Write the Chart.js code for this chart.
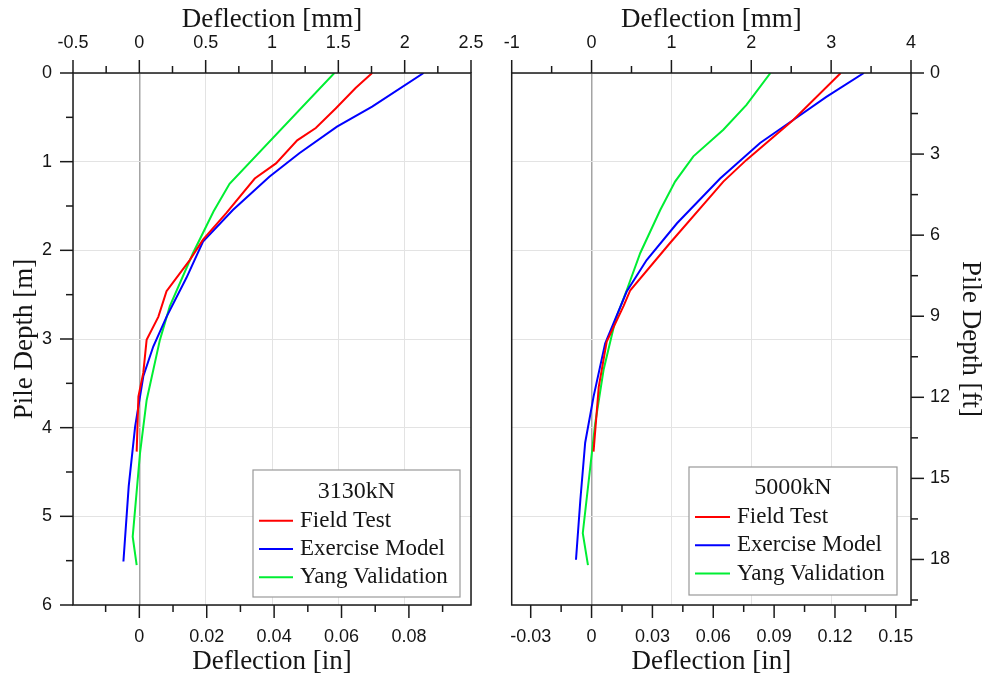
<!DOCTYPE html>
<html>
<head>
<meta charset="utf-8">
<script src="https://cdn.jsdelivr.net/npm/chart.js@4.4.1/dist/chart.umd.min.js"></script>
<style>
  html, body { margin: 0; padding: 0; background: #fff; }
  #wrap { position: relative; width: 988px; height: 680px; }
  canvas { position: absolute; top: 0; }
  #pileA { left: 0; }
  #pileB { left: 494px; }
</style>
</head>
<body>
<div id="wrap">
  <canvas id="pileA" width="494" height="680"></canvas>
  <canvas id="pileB" width="494" height="680"></canvas>
</div>
<script>
const MM_PER_IN = 25.4;
const FT_PER_M = 3.28084;

const seriesNames = ['Field Test', 'Exercise Model', 'Yang Validation'];
const seriesColors = ['#ff0000', '#0000ff', '#00ee33'];

// ---- 3130 kN load case: depth [m], deflection [mm] ----
const loadA = '3130kN';
const depthA_field = [0, 0.17, 0.40, 0.62, 0.76, 1.02, 1.19, 1.58, 1.88, 2.11, 2.33, 2.46, 2.75, 3.01, 3.38, 3.65, 4.27];
const defA_field   = [1.755, 1.63, 1.48, 1.33, 1.19, 1.03, 0.87, 0.655, 0.48, 0.38, 0.27, 0.205, 0.143, 0.055, 0.03, -0.007, -0.02];
const depthA_model = [0, 0.38, 0.605, 0.905, 1.17, 1.545, 1.9, 2.31, 2.75, 3.085, 3.42, 3.99, 4.66, 5.51];
const defA_model   = [2.143, 1.755, 1.49, 1.206, 0.98, 0.705, 0.48, 0.355, 0.205, 0.105, 0.03, -0.032, -0.08, -0.12];
const depthA_yang  = [0, 1.25, 1.56, 2.03, 2.63, 3.01, 3.69, 4.29, 5.23, 5.55];
const defA_yang    = [1.47, 0.68, 0.56, 0.405, 0.23, 0.155, 0.055, 0.005, -0.05, -0.02];

// ---- 5000 kN load case: depth [m], deflection [mm] ----
const loadB = '5000kN';
const depthB_field = [0, 0.53, 0.98, 1.225, 1.92, 2.45, 2.63, 3.03, 3.54, 4.27];
const defB_field   = [3.12, 2.525, 1.94, 1.65, 0.98, 0.485, 0.40, 0.19, 0.09, 0.025];
const depthB_model = [0, 0.27, 0.53, 0.79, 1.19, 1.695, 2.11, 2.465, 3.05, 3.65, 4.17, 4.81, 5.49];
const defB_model   = [3.41, 2.94, 2.525, 2.11, 1.61, 1.07, 0.69, 0.44, 0.17, 0.025, -0.08, -0.14, -0.195];
const depthB_yang  = [0, 0.36, 0.64, 0.94, 1.225, 1.545, 2.03, 2.45, 2.78, 3.35, 3.95, 5.19, 5.55];
const defB_yang    = [2.24, 1.94, 1.65, 1.275, 1.046, 0.86, 0.61, 0.44, 0.30, 0.15, 0.046, -0.11, -0.045];

// ---- axis ranges and tick values ----
const mmRangeA = [-0.5, 2.5];
const mmTicksA = [-0.5, 0, 0.5, 1, 1.5, 2, 2.5];
const mmMinorA = [-0.25, 0.25, 0.75, 1.25, 1.75, 2.25];
const inTicksA = [0, 0.02, 0.04, 0.06, 0.08];
const inMinorA = [-0.01, 0.01, 0.03, 0.05, 0.07, 0.09];

const mmRangeB = [-1, 4];
const mmTicksB = [-1, 0, 1, 2, 3, 4];
const mmMinorB = [-0.5, 0.5, 1.5, 2.5, 3.5];
const inTicksB = [-0.03, 0, 0.03, 0.06, 0.09, 0.12, 0.15];
const inMinorB = [-0.015, 0.015, 0.045, 0.075, 0.105, 0.135];

const depthRange = [0, 6];
const mTicks = [0, 1, 2, 3, 4, 5, 6];
const mMinor = [0.5, 1.5, 2.5, 3.5, 4.5, 5.5];
const ftTicks = [0, 3, 6, 9, 12, 15, 18];
const ftMinor = [1.5, 4.5, 7.5, 10.5, 13.5, 16.5, 19.5];

// ---- shared styling ----
const tickFont = { family: "'Liberation Sans', Arial, sans-serif", size: 18 };
const titleFont = { family: "'Liberation Serif', 'Times New Roman', serif", size: 27 };
const textColor = '#151515';
const gridLight = '#e3e3e3';
const gridZero = '#a4a4a4';

const pairUp = (xs, ys) => xs.map((x, i) => ({ x: x, y: ys[i] }));
const fixedTicks = vals => scale => { scale.ticks = vals.map(v => ({ value: v })); };
// fixed box sizes; edge label overhang is already covered by the neighbouring boxes
const fixedWidth = w => scale => {
  scale.width = w;
  scale.paddingTop = 0; scale.paddingBottom = 0;
};
const fixedHeight = h => scale => {
  scale.height = h;
  scale.paddingLeft = 0; scale.paddingRight = 0;
};
const label = v => String(v);

// outward tick marks and the plot frame
function axisMarks(marks) {
  return {
    id: 'axisMarks',
    afterDraw(chart) {
      const { ctx, chartArea: a } = chart;
      ctx.save();
      ctx.strokeStyle = '#1a1a1a';
      ctx.lineWidth = 1.5;
      marks.forEach(m => {
        const s = chart.scales[m.scale];
        [[m.major, 13], [m.minor, 7]].forEach(([vals, len]) => {
          vals.forEach(v => {
            const p = s.getPixelForValue(v);
            ctx.beginPath();
            if (m.side === 'top') { ctx.moveTo(p, a.top); ctx.lineTo(p, a.top - len); }
            else if (m.side === 'bottom') { ctx.moveTo(p, a.bottom); ctx.lineTo(p, a.bottom + len); }
            else if (m.side === 'left') { ctx.moveTo(a.left, p); ctx.lineTo(a.left - len, p); }
            else { ctx.moveTo(a.right, p); ctx.lineTo(a.right + len, p); }
            ctx.stroke();
          });
        });
      });
      ctx.strokeRect(a.left, a.top, a.right - a.left, a.bottom - a.top);
      ctx.restore();
    }
  };
}

// boxed legend with the load as heading, placed in the lower right of the plot
function boxLegend(o) {
  return {
    id: 'boxLegend',
    afterDatasetsDraw(chart) {
      const { ctx, chartArea: a } = chart;
      const x0 = a.right - o.right - o.width;
      const y0 = a.bottom - o.bottom - o.height;
      ctx.save();
      ctx.fillStyle = '#fff';
      ctx.fillRect(x0, y0, o.width, o.height);
      ctx.strokeStyle = '#999';
      ctx.lineWidth = 1.2;
      ctx.strokeRect(x0, y0, o.width, o.height);
      ctx.textBaseline = 'middle';
      ctx.fillStyle = textColor;
      ctx.textAlign = 'center';
      ctx.font = "24px 'Liberation Serif', 'Times New Roman', serif";
      ctx.fillText(o.title, x0 + o.width / 2, y0 + o.titleY);
      ctx.textAlign = 'left';
      ctx.font = "23px 'Liberation Serif', 'Times New Roman', serif";
      chart.data.datasets.forEach((d, i) => {
        const y = y0 + o.rowY + i * o.rowGap;
        ctx.strokeStyle = d.borderColor;
        ctx.lineWidth = 2;
        ctx.beginPath();
        ctx.moveTo(x0 + 6, y);
        ctx.lineTo(x0 + o.sampleEnd, y);
        ctx.stroke();
        ctx.fillStyle = textColor;
        ctx.fillText(d.label, x0 + o.textX, y);
      });
      ctx.restore();
    }
  };
}

function panel(canvasId, p) {
  const datasets = p.series.map((s, i) => ({
    label: seriesNames[i],
    data: pairUp(s[1], s[0]),
    borderColor: seriesColors[i],
    backgroundColor: seriesColors[i],
    borderWidth: 2,
    pointRadius: 0,
    tension: 0,
    fill: false,
    xAxisID: 'mm',
    yAxisID: 'm'
  }));

  const tickOpts = pad => ({ font: tickFont, color: textColor, padding: pad, callback: label, autoSkip: false, maxRotation: 0 });

  const scales = {
    mm: {
      type: 'linear', position: 'top', min: p.mmRange[0], max: p.mmRange[1],
      afterBuildTicks: fixedTicks(p.mmTicks), afterFit: fixedHeight(73),
      grid: {
        drawTicks: false,
        color: c => (c.tick && c.tick.value === 0 ? gridZero : gridLight),
        lineWidth: c => (c.tick && c.tick.value === 0 ? 1.5 : 1)
      },
      border: { display: false },
      ticks: tickOpts(19),
      title: { display: true, text: 'Deflection [mm]', font: titleFont, color: textColor, padding: { top: 4, bottom: 0 } }
    },
    inch: {
      type: 'linear', position: 'bottom', min: p.mmRange[0] / MM_PER_IN, max: p.mmRange[1] / MM_PER_IN,
      afterBuildTicks: fixedTicks(p.inTicks), afterFit: fixedHeight(75),
      grid: { drawOnChartArea: false, drawTicks: false },
      border: { display: false },
      ticks: tickOpts(21),
      title: { display: true, text: 'Deflection [in]', font: titleFont, color: textColor, padding: { top: 0, bottom: 2 } }
    },
    m: {
      type: 'linear', position: 'left', reverse: true, min: depthRange[0], max: depthRange[1],
      afterBuildTicks: fixedTicks(mTicks), afterFit: fixedWidth(p.leftWidth),
      grid: { drawTicks: false, color: gridLight },
      border: { display: false },
      ticks: Object.assign(tickOpts(21), { display: p.meterLabels }),
      title: { display: p.meterLabels, text: 'Pile Depth [m]', font: titleFont, color: textColor, padding: { top: 9, bottom: 0 } }
    }
  };
  if (p.feetAxis) {
    scales.ft = {
      type: 'linear', position: 'right', reverse: true,
      min: depthRange[0] * FT_PER_M, max: depthRange[1] * FT_PER_M,
      afterBuildTicks: fixedTicks(ftTicks), afterFit: fixedWidth(77),
      grid: { drawOnChartArea: false, drawTicks: false },
      border: { display: false },
      ticks: tickOpts(19),
      title: { display: true, text: 'Pile Depth [ft]', font: titleFont, color: textColor, padding: { top: 2, bottom: 0 } }
    };
  }

  return new Chart(document.getElementById(canvasId), {
    type: 'line',
    data: { datasets },
    options: {
      responsive: false,
      animation: false,
      devicePixelRatio: 1,
      parsing: false,
      layout: { padding: p.padding },
      scales,
      plugins: { legend: { display: false }, tooltip: { enabled: false } }
    },
    plugins: [axisMarks(p.marks), boxLegend(p.legend)]
  });
}

panel('pileA', {
  series: [[depthA_field, defA_field], [depthA_model, defA_model], [depthA_yang, defA_yang]],
  mmRange: mmRangeA, mmTicks: mmTicksA, inTicks: inTicksA,
  leftWidth: 73, meterLabels: true, feetAxis: false,
  padding: { left: 0, right: 23, top: 0, bottom: 0 },
  marks: [
    { scale: 'mm', side: 'top', major: mmTicksA, minor: mmMinorA },
    { scale: 'inch', side: 'bottom', major: inTicksA, minor: inMinorA },
    { scale: 'm', side: 'left', major: mTicks, minor: mMinor }
  ],
  legend: { title: loadA, right: 11, bottom: 8, width: 207, height: 127, titleY: 22, rowY: 50.7, rowGap: 28.3, sampleEnd: 40, textX: 47 }
});

panel('pileB', {
  series: [[depthB_field, defB_field], [depthB_model, defB_model], [depthB_yang, defB_yang]],
  mmRange: mmRangeB, mmTicks: mmTicksB, inTicks: inTicksB,
  leftWidth: 17.7, meterLabels: false, feetAxis: true,
  padding: { left: 0, right: 0, top: 0, bottom: 0 },
  marks: [
    { scale: 'mm', side: 'top', major: mmTicksB, minor: mmMinorB },
    { scale: 'inch', side: 'bottom', major: inTicksB, minor: inMinorB },
    { scale: 'ft', side: 'right', major: ftTicks, minor: ftMinor }
  ],
  legend: { title: loadB, right: 14, bottom: 10, width: 208, height: 128, titleY: 21, rowY: 50, rowGap: 28.3, sampleEnd: 41, textX: 48 }
});
</script>
</body>
</html>
